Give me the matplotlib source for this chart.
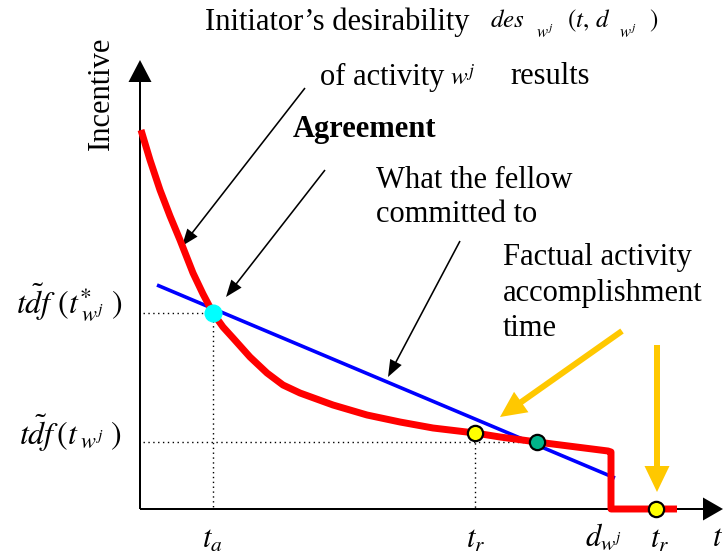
#!/usr/bin/env python3
"""Incentive diagram: desirability curve vs. the fellow's commitment line."""

import matplotlib
matplotlib.use("Agg")
import matplotlib.pyplot as plt

plt.rcParams["font.family"] = ["Liberation Serif", "DejaVu Serif"]
plt.rcParams["mathtext.fontset"] = "stix"

W, H = 723, 555

# desirability curve (red), in picture coordinates (y grows downward)
des_x = [141, 150, 160, 170, 180, 193, 203, 213, 223, 233, 250, 267, 283,
         300, 333, 367, 400, 433, 475, 500, 537, 608, 611, 611, 677]
des_y = [130, 160, 190, 216, 240, 273, 294, 313, 327, 338, 357, 373, 385,
         393, 405, 415, 422, 428, 433, 437, 442, 451, 452, 509, 509]

# commitment line (blue)
commit_x = [157, 615]
commit_y = [285, 478]

# origin and axis ends
origin = (140, 509)
y_top = 60
x_right = 723

# marked points
agree_pt = (213, 313)
tr_pt = (475, 433)
cross_pt = (537, 442)
late_pt = (656, 509)

# annotation arrows: (x0, y0, x1, y1)
black_arrows = [(305, 88, 182, 246), (325, 170, 226, 297), (460, 241, 388, 377)]
gold_arrows = [(622, 331, 500, 417), (657, 345, 657, 492)]

fig = plt.figure(figsize=(W / 100, H / 100), dpi=100)
ax = fig.add_axes([0, 0, 1, 1])
ax.set_xlim(0, W)
ax.set_ylim(H, 0)
ax.axis("off")

# axes with arrow heads
ox, oy = origin
ax.arrow(ox, oy, 0, y_top - oy, width=2, head_width=23, head_length=22,
         length_includes_head=True, fc="black", ec="black", lw=0, zorder=3)
ax.arrow(ox, oy, x_right - ox, 0, width=2, head_width=23, head_length=20,
         length_includes_head=True, fc="black", ec="black", lw=0, zorder=3)

# guide lines
dots = dict(color="black", ls=(0, (1, 2.5)), lw=1, zorder=2)
ax.plot([ox + 3, agree_pt[0], agree_pt[0]], [agree_pt[1], agree_pt[1], oy], **dots)
ax.plot([ox + 3, cross_pt[0]], [cross_pt[1], cross_pt[1]], **dots)
ax.plot([tr_pt[0], tr_pt[0]], [tr_pt[1], oy], **dots)

ax.plot(commit_x, commit_y, color="#0000ff", lw=2.6, zorder=4,
        solid_capstyle="butt")
ax.plot(des_x, des_y, color="#ff0000", lw=5, zorder=5,
        solid_joinstyle="round", solid_capstyle="butt")

ax.plot(*agree_pt, "o", ms=12, color="#00ffff", mec="#00ffff", zorder=6)
for pt, col in [(tr_pt, "#ffff00"), (cross_pt, "#00b38a"), (late_pt, "#ffff00")]:
    ax.plot(*pt, "o", ms=11, color=col, mec="black", mew=1.6, zorder=6)

for x0, y0, x1, y1 in black_arrows:
    ax.arrow(x0, y0, x1 - x0, y1 - y0, width=1.6, head_width=13, head_length=17,
             length_includes_head=True, fc="black", ec="black", lw=0, zorder=3)
for x0, y0, x1, y1 in gold_arrows:
    ax.arrow(x0, y0, x1 - x0, y1 - y0, width=6, head_width=25, head_length=26,
             length_includes_head=True, fc="#ffc800", ec="#ffc800", lw=0, zorder=3)

fs = 22
ms = 18
ax.text(101, 93, "Incentive", rotation=90, fontsize=fs, ha="center", va="center")
ax.text(205, 22, "Initiator\u2019s desirability", fontsize=fs, va="center")
ax.text(490, 21, r"$des$", fontsize=ms, va="center")
ax.text(536, 33, r"$w^j$", fontsize=12, va="center")
ax.text(567, 21, r"$(t,\, d$", fontsize=ms, va="center")
ax.text(619, 33, r"$w^j$", fontsize=12, va="center")
ax.text(649, 21, r"$)$", fontsize=ms, va="center")
ax.text(320, 77, "of activity", fontsize=fs, va="center")
ax.text(450, 77, r"$w^j$", fontsize=ms, va="center")
ax.text(510, 77, "results", fontsize=fs, va="center")
ax.text(293, 130, "Agreement", fontsize=fs, fontweight="bold", va="center")
ax.text(376, 180, "What the fellow", fontsize=fs, va="center")
ax.text(376, 215, "committed to", fontsize=fs, va="center")
ax.text(503, 258, "Factual activity", fontsize=fs, va="center")
ax.text(503, 294, "accomplishment", fontsize=fs, va="center")
ax.text(503, 328, "time", fontsize=fs, va="center")

ax.text(16, 303, r"$\tilde{tdf}\ (t^{\ast}_{\;w^j}\;)$", fontsize=23, va="center")
ax.text(19, 433, r"$\tilde{tdf}\,(t_{\;w^j}\;)$", fontsize=23, va="center")

ax.text(212, 540, r"$t_a$", fontsize=22, ha="center", va="center")
ax.text(476, 540, r"$t_r$", fontsize=22, ha="center", va="center")
ax.text(604, 538, r"$d_{w^j}$", fontsize=22, ha="center", va="center")
ax.text(660, 540, r"$t_r$", fontsize=22, ha="center", va="center")
ax.text(712, 538, r"$t$", fontsize=22, ha="left", va="center")

fig.savefig("out.png", dpi=100)
plt.close(fig)
